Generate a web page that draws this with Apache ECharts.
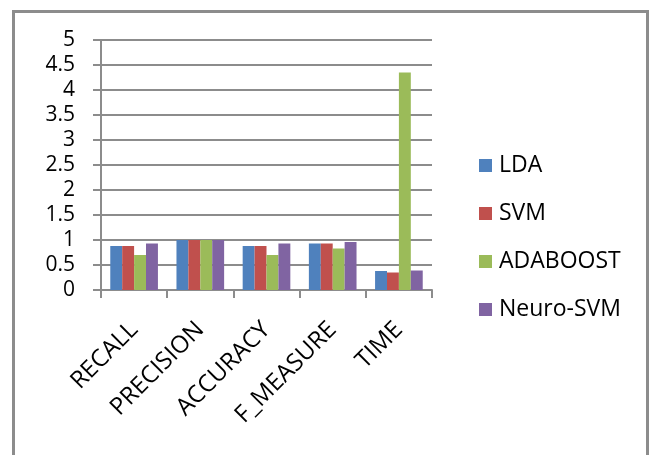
<!DOCTYPE html>
<html>
<head>
<meta charset="utf-8">
<script src="https://cdn.jsdelivr.net/npm/echarts@6/dist/echarts.min.js"></script>
<style>
  html, body { margin: 0; padding: 0; background: #fff; }
  #chart { width: 650px; height: 455px; }
</style>
</head>
<body>
<div id="chart"></div>
<script>
// Evaluation metrics per classifier
const categories = ['RECALL', 'PRECISION', 'ACCURACY', 'F_MEASURE', 'TIME'];
const lda       = [0.88, 1.00, 0.88, 0.93, 0.38];
const svm       = [0.88, 1.00, 0.88, 0.93, 0.35];
const adaboost  = [0.70, 1.00, 0.70, 0.83, 4.35];
const neuroSvm  = [0.93, 1.00, 0.93, 0.96, 0.39];
const yTicks = [0, 0.5, 1, 1.5, 2, 2.5, 3, 3.5, 4, 4.5, 5];

const seriesDefs = [
  { name: 'LDA', data: lda, color: '#4F81BD' },
  { name: 'SVM', data: svm, color: '#C0504D' },
  { name: 'ADABOOST', data: adaboost, color: '#9BBB59' },
  { name: 'Neuro-SVM', data: neuroSvm, color: '#8064A2' }
];

const FONT = '"Open Sans", sans-serif';
const GRID_GRAY = '#8c8c8c';

const chart = echarts.init(document.getElementById('chart'));
chart.setOption({
  animation: false,
  textStyle: { fontFamily: FONT },
  graphic: [{
    type: 'rect',
    shape: { x: 13.5, y: 11.5, width: 634, height: 470 },
    style: { fill: 'none', stroke: '#8c8c8c', lineWidth: 3 },
    silent: true
  }],
  grid: { left: 101, top: 40, width: 331, height: 250, containLabel: false },
  legend: {
    orient: 'vertical',
    left: 474,
    top: 149,
    itemWidth: 13,
    itemHeight: 13,
    itemGap: 25,
    icon: 'rect',
    textStyle: { fontFamily: FONT, fontSize: 23, color: '#000', padding: [0, 0, 0, 2] },
    data: seriesDefs.map(s => s.name)
  },
  xAxis: {
    type: 'category',
    data: categories,
    axisLine: { show: true, lineStyle: { color: GRID_GRAY, width: 2 } },
    axisTick: { show: true, alignWithLabel: false, length: 8, lineStyle: { color: GRID_GRAY, width: 2 } },
    axisLabel: {
      rotate: 45,
      margin: 36,
      interval: 0,
      fontFamily: FONT,
      fontSize: 24,
      color: '#000'
    }
  },
  yAxis: {
    type: 'value',
    min: 0,
    max: 5,
    interval: 0.5,
    axisLine: { show: true, lineStyle: { color: GRID_GRAY, width: 2 } },
    axisTick: { show: true, length: 8, lineStyle: { color: GRID_GRAY, width: 2 } },
    splitLine: { show: true, lineStyle: { color: GRID_GRAY, width: 2 } },
    axisLabel: {
      margin: 26,
      fontFamily: FONT,
      fontSize: 21,
      color: '#000',
      formatter: v => (yTicks.includes(v) ? String(v) : '')
    }
  },
  series: seriesDefs.map(s => ({
    name: s.name,
    type: 'bar',
    data: s.data,
    barGap: '0%',
    barCategoryGap: '28%',
    itemStyle: { color: s.color }
  }))
});
</script>
</body>
</html>
